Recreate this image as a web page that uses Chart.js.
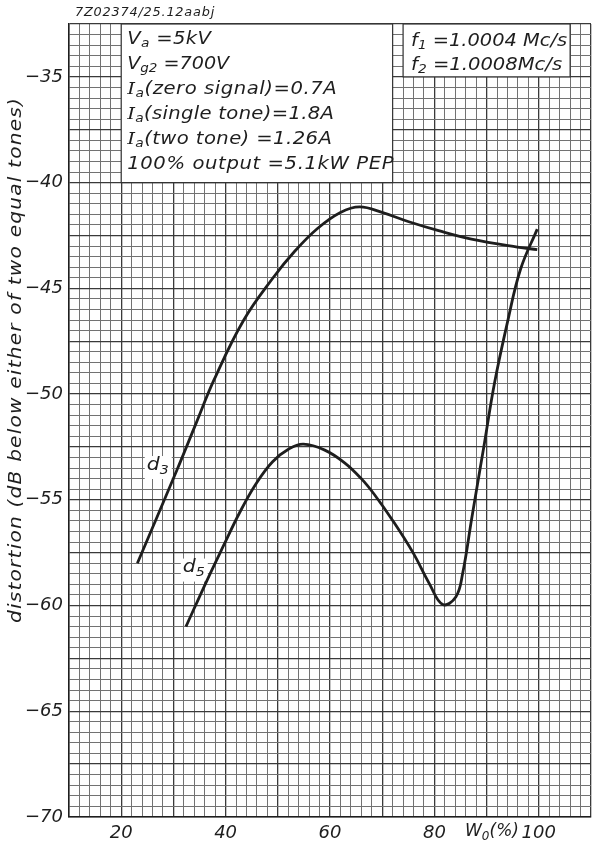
<!DOCTYPE html>
<html><head><meta charset="utf-8">
<script src="https://cdn.jsdelivr.net/npm/chart.js@4/dist/chart.umd.min.js"></script>
<style>html,body{margin:0;padding:0;background:#fff;}#wrap{width:597px;height:847px;position:relative;}</style>
</head><body><div id="wrap"><canvas id="c" width="597" height="847"></canvas></div>
<script>
// ---- data ----
const d3X = [23.1, 30.7, 34.4, 37.8, 43.4, 49.1, 53.2, 57.6, 62.0, 65.7, 70.1, 75.1, 80.8, 87.1, 95.9, 99.7];
const d3Y = [-58.0, -53.58, -51.35, -49.32, -46.53, -44.5, -43.26, -42.17, -41.41, -41.15, -41.42, -41.85, -42.27, -42.67, -43.05, -43.17];
const d5X = [32.4, 36.4, 39.6, 42.7, 45.8, 49.0, 52.1, 54.9, 59.0, 62.8, 66.0, 68.5, 72.2, 75.9, 79.0, 81.6, 84.1, 85.4, 87.2, 89.6, 91.5, 94.0, 96.5, 99.7];
const d5Y = [-61.0, -58.83, -57.17, -55.6, -54.25, -53.2, -52.6, -52.37, -52.65, -53.25, -54.0, -54.75, -56.05, -57.5, -58.95, -59.95, -59.6, -58.5, -55.8, -52.3, -49.5, -46.6, -44.1, -42.2];
const xTickLabels = [20, 40, 60, 80, 100];
const yTickLabels = [-35, -40, -45, -50, -55, -60, -65, -70];
const xTitle = 'W';
const yTitle = 'distortion (dB below either of two equal tones)';
const codeText = '7Z02374/25.12aabj';

const INK = '#1e1e1e';
const FAM = '"DejaVu Sans", "Liberation Sans", sans-serif';
const font = (s, serif) => 'italic ' + s.toFixed(1) + 'px ' + (serif ? '"DejaVu Serif", serif' : FAM);

function drawRich(ctx, parts, x, y, size, target, maxScale) {
  // parts: [text, sub?, serif?]
  let w = 0, n = 0;
  ctx.letterSpacing = '0px';
  const widths = parts.map(([t, sub, serif]) => {
    ctx.font = font(sub ? size * 0.7 : size, serif);
    const m = ctx.measureText(t).width; w += m; n += t.length; return m;
  });
  let sx = 1, ls = 0;
  if (target) {
    sx = Math.min(maxScale || 1.12, Math.max(0.9, target / w));
    ls = Math.max(-2, Math.min(5, (target / sx - w) / n));
  }
  ctx.save();
  ctx.translate(x, y);
  ctx.scale(sx, 1);
  let cx = 0;
  parts.forEach(([t, sub, serif], i) => {
    ctx.font = font(sub ? size * 0.7 : size, serif);
    ctx.letterSpacing = ls + 'px';
    ctx.fillText(t, cx, sub ? size * 0.3 : 0);
    cx += widths[i] + ls * t.length;
  });
  ctx.letterSpacing = '0px';
  ctx.restore();
}

const curveLabels = [['3', 27.0, -53.45], ['5', 33.9, -58.3]];

const annot = {
  id: 'annot',
  beforeDatasetsDraw(chart) {
    const {ctx, scales: {x, y}, chartArea: ca} = chart;
    ctx.save();
    [[20, 72, -40], [74, 106, -35]].forEach(([x0, x1, yb]) => {
      const l = x.getPixelForValue(x0), r = x.getPixelForValue(x1), b = y.getPixelForValue(yb), t = ca.top;
      ctx.fillStyle = '#fff';
      ctx.fillRect(l, t, r - l, b - t);
      ctx.strokeStyle = '#333'; ctx.lineWidth = 1.2;
      ctx.strokeRect(l, t, r - l, b - t);
    });
    // white patches behind curve labels (under the curves)
    ctx.fillStyle = '#fff';
    curveLabels.forEach(([n, vx, vy]) => {
      const px = x.getPixelForValue(vx), py = y.getPixelForValue(vy);
      ctx.fillRect(px - 13, py - 11, 27, 23);
    });
    ctx.restore();
  },
  afterDatasetsDraw(chart) {
    const {ctx, scales: {x, y}, chartArea: ca} = chart;
    ctx.save();
    ctx.fillStyle = INK; ctx.textBaseline = 'middle'; ctx.textAlign = 'left';
    const lx = x.getPixelForValue(20) + 6, t = ca.top;
    const S = 17.5;
    drawRich(ctx, [['V'], ['a', 1], [' =5kV']], lx, t + 15, S, 84);
    drawRich(ctx, [['V'], ['g2', 1], [' =700V']], lx, t + 40, S, 102);
    drawRich(ctx, [['I', 0, 1], ['a', 1], ['(zero signal)=0.7A']], lx, t + 65, S, 210);
    drawRich(ctx, [['I', 0, 1], ['a', 1], ['(single tone)=1.8A']], lx, t + 90, S, 207);
    drawRich(ctx, [['I', 0, 1], ['a', 1], ['(two tone) =1.26A']], lx, t + 115, S, 205);
    drawRich(ctx, [['100% output =5.1kW PEP']], lx, t + 140, S, 267);
    const rx = x.getPixelForValue(74) + 8;
    drawRich(ctx, [['f'], ['1', 1], [' =1.0004 Mc/s']], rx, t + 17, S, 156);
    drawRich(ctx, [['f'], ['2', 1], [' =1.0008Mc/s']], rx, t + 41, S, 151);
    // curve labels
    curveLabels.forEach(([name, vx, vy]) => {
      const px = x.getPixelForValue(vx), py = y.getPixelForValue(vy);
      drawRich(ctx, [['d'], [name, 1]], px - 11, py - 2, 18.5, 22);
    });
    // code text
    drawRich(ctx, [[codeText]], 75, 13, 11.5, 140);
    // x title
    drawRich(ctx, [[xTitle], ['0', 1], ['(%)']], 465, 832, 17, 54);
    // y title
    ctx.save();
    ctx.translate(16, 360);
    ctx.rotate(-Math.PI / 2);
    drawRich(ctx, [[yTitle]], -263, 0, 18, 526);
    ctx.restore();
    ctx.restore();
  }
};

const isMajX = v => Math.abs(v % 10) < 1e-6;
const isMajY = v => Math.abs(v / 2.5 - Math.round(v / 2.5)) < 1e-6;

new Chart(document.getElementById('c'), {
  type: 'scatter',
  data: {
    datasets: [
      {label: 'd3', data: d3X.map((v, i) => ({x: v, y: d3Y[i]})), showLine: true, borderColor: INK, borderWidth: 2.8, pointRadius: 0, tension: 0.4, fill: false},
      {label: 'd5', data: d5X.map((v, i) => ({x: v, y: d5Y[i]})), showLine: true, borderColor: INK, borderWidth: 2.8, pointRadius: 0, tension: 0.4, fill: false}
    ]
  },
  options: {
    responsive: false, animation: false, devicePixelRatio: 1,
    layout: {padding: {top: 24, right: 0, left: 0, bottom: 0}},
    plugins: {legend: {display: false}, tooltip: {enabled: false}},
    scales: {
      x: {
        type: 'linear', min: 10, max: 110,
        afterFit(s) { s.height = 30; },
        border: {display: true, color: INK, width: 1.5},
        grid: {drawTicks: false, color: c => isMajX(c.tick.value) ? '#3a3a3a' : '#727272', lineWidth: c => isMajX(c.tick.value) ? 1.3 : 1},
        ticks: {stepSize: 2, autoSkip: false, maxRotation: 0, padding: 6, color: INK, font: {family: FAM, size: 18, style: 'italic'},
          callback: v => xTickLabels.includes(v) ? String(v) : ''}
      },
      y: {
        type: 'linear', min: -70, max: -32.5,
        afterFit(s) { s.width = 69; },
        border: {display: true, color: INK, width: 1.5},
        grid: {drawTicks: false, color: c => isMajY(c.tick.value) ? '#3a3a3a' : '#727272', lineWidth: c => isMajY(c.tick.value) ? 1.3 : 1},
        ticks: {stepSize: 0.5, autoSkip: false, padding: 6, color: INK, font: {family: FAM, size: 18, style: 'italic'},
          callback: v => yTickLabels.includes(v) ? '\u2212' + Math.abs(v) : ''}
      }
    }
  },
  plugins: [annot]
});
</script>
</body></html>
